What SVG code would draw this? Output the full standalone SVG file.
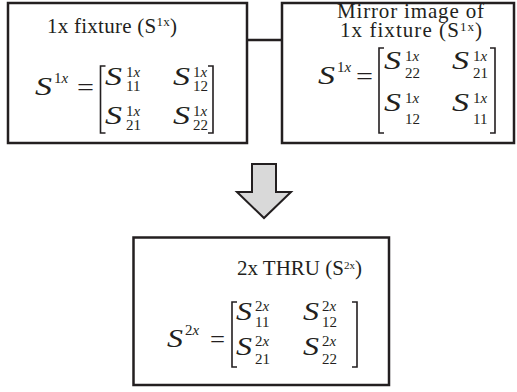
<svg xmlns="http://www.w3.org/2000/svg" width="517" height="392" viewBox="0 0 517 392">
<style>
.box{fill:#fff;stroke:#231f20;stroke-width:2.5}
.t{font-family:"Liberation Serif","Times New Roman",serif;fill:#231f20;font-size:21px}
.m{font-family:"Liberation Serif","Times New Roman",serif;font-style:italic;font-size:26px;fill:#231f20}
.eq{font-family:"Liberation Serif","Times New Roman",serif;font-size:26px;fill:#231f20}
.s{font-family:"Liberation Serif","Times New Roman",serif;font-size:15px;fill:#231f20}
.i{font-style:italic}
.br{fill:none;stroke:#231f20;stroke-width:1.6}
.conn{stroke:#231f20;stroke-width:2.5;fill:none}
.arrow{fill:#d9d9d9;stroke:#231f20;stroke-width:2;stroke-linejoin:miter}
</style>
<g id="connectors">
<line class="conn" x1="247" y1="40" x2="282" y2="40"/>
<polygon class="arrow" points="252,164 276,164 276,192 291,192 264,218 237,192 252,192"/>
</g>
<g id="fixture1x">
<rect class="box" x="8" y="3" width="239" height="140"/>
<text class="t" x="47" y="33" textLength="130" lengthAdjust="spacing">1x fixture (S<tspan dy="-7" font-size="13">1x</tspan><tspan dy="7">)</tspan></text>
<text class="m" x="35" y="95" textLength="17" lengthAdjust="spacingAndGlyphs">S</text>
<text class="s" x="54" y="83">1<tspan class="i">x</tspan></text>
<text class="eq" x="77" y="96" textLength="17" lengthAdjust="spacingAndGlyphs">=</text>
<path class="br" d="M105.5,66 H100.5 V133 H105.5"/>
<path class="br" d="M208,66 H213 V133 H208"/>
<text class="m" x="105" y="85" textLength="17" lengthAdjust="spacingAndGlyphs">S</text>
<text class="s" x="126" y="77">1<tspan class="i">x</tspan></text>
<text class="s" x="126" y="91">11</text>
<text class="m" x="173" y="85" textLength="17" lengthAdjust="spacingAndGlyphs">S</text>
<text class="s" x="193" y="77">1<tspan class="i">x</tspan></text>
<text class="s" x="193" y="91">12</text>
<text class="m" x="105" y="124" textLength="17" lengthAdjust="spacingAndGlyphs">S</text>
<text class="s" x="126" y="116">1<tspan class="i">x</tspan></text>
<text class="s" x="126" y="130">21</text>
<text class="m" x="173" y="124" textLength="17" lengthAdjust="spacingAndGlyphs">S</text>
<text class="s" x="193" y="116">1<tspan class="i">x</tspan></text>
<text class="s" x="193" y="130">22</text>
</g>
<g id="mirror1x">
<rect class="box" x="282" y="3" width="232" height="140"/>
<text class="t" x="337" y="18" font-size="20" textLength="147" lengthAdjust="spacing">Mirror image of</text>
<text class="t" x="340" y="37" font-size="20" textLength="142" lengthAdjust="spacing">1x fixture (S<tspan dy="-6" font-size="13">1x</tspan><tspan dy="6">)</tspan></text>
<text class="m" x="318" y="84" textLength="17" lengthAdjust="spacingAndGlyphs">S</text>
<text class="s" x="337" y="72">1<tspan class="i">x</tspan></text>
<text class="eq" x="356" y="85" textLength="17" lengthAdjust="spacingAndGlyphs">=</text>
<path class="br" d="M384,48 H379 V133 H384"/>
<path class="br" d="M490,48 H495 V133 H490"/>
<text class="m" x="384" y="69" textLength="17" lengthAdjust="spacingAndGlyphs">S</text>
<text class="s" x="405" y="61">1<tspan class="i">x</tspan></text>
<text class="s" x="405" y="78">22</text>
<text class="m" x="452" y="69" textLength="17" lengthAdjust="spacingAndGlyphs">S</text>
<text class="s" x="473" y="61">1<tspan class="i">x</tspan></text>
<text class="s" x="473" y="78">21</text>
<text class="m" x="384" y="111" textLength="17" lengthAdjust="spacingAndGlyphs">S</text>
<text class="s" x="405" y="103">1<tspan class="i">x</tspan></text>
<text class="s" x="405" y="124">12</text>
<text class="m" x="452" y="111" textLength="17" lengthAdjust="spacingAndGlyphs">S</text>
<text class="s" x="473" y="103">1<tspan class="i">x</tspan></text>
<text class="s" x="473" y="124">11</text>
</g>
<g id="thru2x">
<rect class="box" x="133.5" y="237.5" width="255.5" height="147.5"/>
<text class="t" x="237" y="275" font-size="16">2x THRU (S<tspan dy="-6" font-size="11">2x</tspan><tspan dy="6">)</tspan></text>
<text class="m" x="167" y="347" font-size="24" textLength="16" lengthAdjust="spacingAndGlyphs">S</text>
<text class="s" x="185" y="335" font-size="14">2<tspan class="i">x</tspan></text>
<text class="eq" x="210" y="348" font-size="24" textLength="15" lengthAdjust="spacingAndGlyphs">=</text>
<path class="br" d="M237,302 H232 V367 H237"/>
<path class="br" d="M352,302 H357 V367 H352"/>
<text class="m" x="236" y="320" font-size="24" textLength="16" lengthAdjust="spacingAndGlyphs">S</text>
<text class="s" x="255" y="311" font-size="14">2<tspan class="i">x</tspan></text>
<text class="s" x="255" y="327" font-size="14">11</text>
<text class="m" x="303" y="320" font-size="24" textLength="16" lengthAdjust="spacingAndGlyphs">S</text>
<text class="s" x="322" y="311" font-size="14">2<tspan class="i">x</tspan></text>
<text class="s" x="322" y="327" font-size="14">12</text>
<text class="m" x="236" y="355" font-size="24" textLength="16" lengthAdjust="spacingAndGlyphs">S</text>
<text class="s" x="255" y="346" font-size="14">2<tspan class="i">x</tspan></text>
<text class="s" x="255" y="364" font-size="14">21</text>
<text class="m" x="303" y="355" font-size="24" textLength="16" lengthAdjust="spacingAndGlyphs">S</text>
<text class="s" x="322" y="346" font-size="14">2<tspan class="i">x</tspan></text>
<text class="s" x="322" y="364" font-size="14">22</text>
</g>
</svg>
